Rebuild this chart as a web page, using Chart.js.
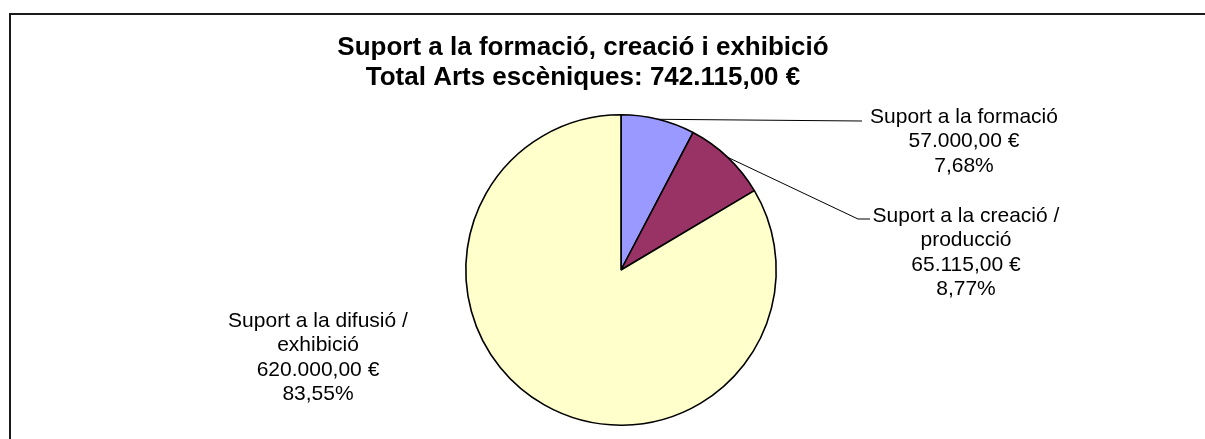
<!DOCTYPE html>
<html>
<head>
<meta charset="utf-8">
<script src="https://cdn.jsdelivr.net/npm/chart.js"></script>
<style>
  body { margin: 0; background: #fff; }
  #wrap { width: 1205px; height: 439px; }
</style>
</head>
<body>
<div id="wrap"><canvas id="pieChart" width="1205" height="439"></canvas></div>
<script>
const ctx = document.getElementById('pieChart');

// data
const categories = ["Suport a la formació", "Suport a la creació / producció", "Suport a la difusió / exhibició"];
const amounts = [57000, 65115, 620000];
const amountLabels = ["57.000,00 €", "65.115,00 €", "620.000,00 €"];
const percentLabels = ["7,68%", "8,77%", "83,55%"];
const nameLines = [["Suport a la formació"], ["Suport a la creació /", "producció"], ["Suport a la difusió /", "exhibició"]];
const titleLines = ["Suport a la formació, creació i exhibició", "Total Arts escèniques: 742.115,00 €"];

const sliceColors = ["#9999FF", "#993366", "#FFFFCC"];

// where each label block sits, and where its leader line ends (null = no leader)
const labelPlaces = [
    {cx: 964, firstBaseline: 123, leaderEnd: [862, 121], leaderTail: null},
    {cx: 966, firstBaseline: 222, leaderEnd: [858, 219], leaderTail: [870, 219]},
    {cx: 318, firstBaseline: 327, leaderEnd: null, leaderTail: null}
];
const lineGap = 24.3;

const decorPlugin = {
    id: 'decor',
    afterDraw(chart) {
        const c = chart.ctx;
        c.save();
        // frame
        c.strokeStyle = '#1a1a1a';
        c.lineWidth = 2;
        c.beginPath();
        c.moveTo(10, 440);
        c.lineTo(10, 14);
        c.lineTo(1206, 14);
        c.stroke();

        // title
        c.fillStyle = '#000';
        c.textAlign = 'center';
        c.textBaseline = 'alphabetic';
        c.font = 'bold 26px "Liberation Sans", Arial, sans-serif';
        c.fillText(titleLines[0], 583, 55);
        c.fillText(titleLines[1], 583, 85);

        // labels + leaders
        const arcs = chart.getDatasetMeta(0).data;
        c.font = '21px "Liberation Sans", Arial, sans-serif';
        c.lineWidth = 1;
        c.strokeStyle = '#000';
        labelPlaces.forEach((place, i) => {
            const lines = nameLines[i].concat([amountLabels[i], percentLabels[i]]);
            lines.forEach((txt, k) => c.fillText(txt, place.cx, place.firstBaseline + k * lineGap));
            if (place.leaderEnd) {
                const a = arcs[i];
                const mid = (a.startAngle + a.endAngle) / 2;
                c.beginPath();
                c.moveTo(a.x + Math.cos(mid) * a.outerRadius, a.y + Math.sin(mid) * a.outerRadius);
                c.lineTo(place.leaderEnd[0], place.leaderEnd[1]);
                if (place.leaderTail) c.lineTo(place.leaderTail[0], place.leaderTail[1]);
                c.stroke();
            }
        });
        c.restore();
    }
};

new Chart(ctx, {
    type: 'pie',
    data: {
        labels: categories,
        datasets: [{
            data: amounts,
            backgroundColor: sliceColors,
            borderColor: '#000',
            borderWidth: 1.6
        }]
    },
    options: {
        responsive: false,
        animation: false,
        layout: {padding: {left: 465, right: 428, top: 113, bottom: 12}},
        plugins: {
            legend: {display: false},
            tooltip: {enabled: false}
        }
    },
    plugins: [decorPlugin]
});
</script>
</body>
</html>
